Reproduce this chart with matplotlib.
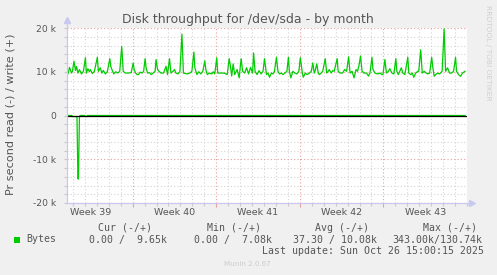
import matplotlib
matplotlib.use("Agg")
import matplotlib.pyplot as plt
from matplotlib.patches import Rectangle
from matplotlib.transforms import blended_transform_factory

# write (+) series, hours since the left edge of the graph, bytes/s
write_hours = [
    0, 2, 5, 9, 11, 14, 17, 19, 22, 25, 29, 33, 37, 39, 42, 45, 47, 51, 55, 61,
    63, 67, 70, 73, 77, 81, 86, 88, 91, 94, 98, 102, 106, 110, 113, 117, 124, 129, 133, 135,
    138, 141, 144, 147, 151, 154, 157, 159, 162, 166, 169, 173, 177, 179, 182, 185, 189, 194, 199, 202,
    206, 209, 213, 216, 219, 223, 227, 231, 234, 242, 247, 251, 255, 257, 261, 265, 269, 273, 277, 279,
    282, 286, 291, 294, 297, 301, 303, 316, 322, 326, 329, 331, 334, 337, 342, 346, 350, 353, 357, 361,
    365, 369, 373, 375, 378, 382, 386, 390, 394, 397, 401, 404, 407, 411, 414, 417, 421, 424, 427, 431,
    434, 438, 442, 445, 447, 450, 454, 458, 462, 466, 469, 473, 475, 479, 483, 487, 491, 494, 497, 499,
    502, 505, 507, 511, 514, 519, 522, 525, 527, 531, 534, 537, 543, 545, 549, 554, 558, 562, 566, 569,
    573, 577, 581, 584, 587, 590, 593, 597, 602, 606, 609, 613, 615, 619, 624, 629, 633, 635, 639, 642,
    646, 649, 653, 657, 661, 663, 666, 669, 672, 675, 679, 685, 687, 691, 694, 697, 701, 705, 707, 711,
    714, 718, 722, 725, 729, 733, 735, 738, 741, 745, 749, 754, 758, 761, 765, 769, 773, 777, 781, 783,
    787, 791, 795, 800,
]
write_vals = [
    10300, 9500, 11000, 9700, 10100, 12400, 10300, 11200, 9700, 10500, 9500, 10100, 13200, 9700, 10700, 10000, 10500, 9600, 10100, 13300,
    10100, 10900, 9700, 10300, 9500, 10000, 13000, 11200, 10300, 9500, 10000, 9700, 10100, 15800, 10100, 9700, 9700, 9800, 12000, 10500,
    9700, 9350, 9350, 9900, 9700, 10100, 13000, 10900, 9700, 9800, 9350, 9700, 10100, 12800, 10500, 10100, 9700, 9700, 11250, 9350,
    13000, 9700, 10100, 10500, 9700, 9500, 10100, 18600, 9700, 9500, 9700, 10100, 14500, 10900, 9350, 10000, 9500, 10100, 12500, 10500,
    9350, 9700, 9500, 10000, 9500, 13200, 9700, 9700, 9350, 13000, 10900, 9000, 11800, 9350, 10500, 8600, 13000, 10100, 9700, 10900,
    9500, 11000, 9700, 14300, 10100, 9350, 10260, 9500, 10100, 13000, 9350, 9700, 8750, 9700, 9500, 10100, 13300, 10100, 9500, 9700,
    9350, 9700, 10100, 13300, 10100, 8600, 10100, 9700, 9500, 10100, 13200, 9700, 8750, 9700, 9350, 9700, 10100, 12000, 9700, 10260,
    11800, 9700, 9350, 9700, 10100, 13000, 9700, 10100, 10500, 9700, 10260, 10100, 13000, 10100, 9700, 9700, 10500, 10100, 13400, 9700,
    10100, 8600, 10500, 10100, 11500, 13600, 10100, 9700, 9700, 9000, 9700, 13300, 10500, 9700, 9500, 9700, 9350, 9350, 12800, 9700,
    10100, 10700, 9700, 9500, 13000, 10100, 9350, 10100, 10900, 9700, 9350, 13300, 9700, 9350, 9700, 8750, 9700, 10100, 10100, 15000,
    9700, 10100, 9700, 9500, 9700, 13300, 11250, 8970, 9350, 9700, 9500, 10100, 19800, 10100, 10900, 9700, 9700, 10100, 13300, 10100,
    9350, 8970, 9700, 10100,
]

# read (-) series, drawn below zero
read_hours = [0, 10, 11, 20, 22, 23, 25, 26, 36, 37, 40, 41, 800]
read_vals = [0, 0, -250, -250, -14500, -14500, -250, 0, 0, -250, -250, 0, 0]

week_labels = ["Week 39", "Week 40", "Week 41", "Week 42", "Week 43"]
week_centers = [48, 216, 384, 552, 720]
week_starts = [132, 300, 468, 636]

y_ticks = [-20000, -10000, 0, 10000, 20000]
y_labels = ["-20 k", "-10 k", "0", "10 k", "20 k"]

legend_heads = ["Cur (-/+)", "Min (-/+)", "Avg (-/+)", "Max (-/+)"]
legend_vals = ["0.00 /  9.65k", "0.00 /  7.08k", "37.30 / 10.08k", "343.00k/130.74k"]

W, H = 497, 275
BG = "#F0F0F0"
TXT = "#555555"
GREEN = "#00CC00"
AXC = "#C8C8F0"


def fx(px):
    return px / W


def fy(py):
    return 1 - py / H


def main():
    fig = plt.figure(figsize=(W / 100, H / 100), dpi=100, facecolor=BG)
    ax = fig.add_axes([fx(67), fy(203), 400 / W, 175 / H])
    ax.set_facecolor("white")

    ax.set_xlim(0, 800)
    ax.set_ylim(-20000, 20000)

    # grid: gray dotted minor, reddish dotted major
    ax.set_xticks(week_starts)
    ax.set_xticks([12 + 24 * i for i in range(34)], minor=True)
    ax.set_yticks(y_ticks)
    ax.set_yticks(list(range(-18000, 20000, 2000)), minor=True)
    ax.set_xticklabels([])
    ax.set_yticklabels(y_labels, fontsize=6.6, color=TXT)
    ax.grid(which="minor", color="#D4D4D4", linestyle=(0, (1, 2)), linewidth=0.8)
    ax.grid(which="major", color="#E6A0A0", linestyle=(0, (1, 2)), linewidth=0.8)
    ax.set_axisbelow(True)
    ax.tick_params(which="major", axis="x", length=3, color="#E6A0A0", width=0.8)
    ax.tick_params(which="minor", axis="x", length=2, color="#C8C8C8", width=0.8)
    ax.tick_params(which="both", axis="y", length=2, color="#C8C8C8", width=0.8, pad=6)

    for s in ["top", "right", "left", "bottom"]:
        ax.spines[s].set_visible(False)

    # data
    ax.plot(read_hours, read_vals, color=GREEN, linewidth=0.9, zorder=3)
    ax.plot(write_hours, write_vals, color=GREEN, linewidth=0.9, zorder=3)
    ax.axhline(0, color="black", linewidth=0.9, zorder=4)

    # axes with arrows
    ax.plot([0, 0], [0, 1.045], transform=ax.transAxes, color=AXC, lw=0.9, clip_on=False, zorder=5)
    ax.plot([0, 1.012], [0, 0], transform=ax.transAxes, color=AXC, lw=0.9, clip_on=False, zorder=5)
    ax.plot([0], [1.045], marker="^", markersize=4, color=AXC, transform=ax.transAxes, clip_on=False, zorder=5)
    ax.plot([1.012], [0], marker=">", markersize=4, color=AXC, transform=ax.transAxes, clip_on=False, zorder=5)

    # week labels centred between week boundaries
    trans = blended_transform_factory(ax.transData, fig.transFigure)
    for c, lab in zip(week_centers, week_labels):
        ax.text(c, fy(212.3), lab, transform=trans, ha="center", va="center",
                fontsize=6.8, color=TXT, clip_on=False)

    fig.text(fx(248), fy(19.5), "Disk throughput for /dev/sda - by month",
             ha="center", va="center", fontsize=9, color=TXT)
    fig.text(fx(11), fy(114), "Pr second read (-) / write (+)", rotation=90,
             ha="center", va="center", fontsize=8.1, color=TXT)
    fig.text(fx(488), fy(53), "RRDTOOL / TOBI OETIKER", rotation=270,
             ha="center", va="center", fontsize=5.4, color="#D0D0D0")
    fig.text(fx(247.5), fy(264), "Munin 2.0.67", ha="center", va="center",
             fontsize=5.1, color="#CCCCCC")

    # legend block (monospace)
    mono = dict(family="DejaVu Sans Mono", fontsize=7.1, color=TXT, va="center")
    for x, t in zip([98.3, 206.7, 315, 422.7], legend_heads):
        fig.text(fx(x), fy(228), t, ha="left", **mono)
    fig.patches.append(Rectangle((fx(14), fy(243)), 6 / W, 6 / H, transform=fig.transFigure,
                                 facecolor=GREEN, edgecolor="none"))
    fig.text(fx(26.3), fy(239.5), "Bytes", ha="left", **mono)
    for x, t in zip([89.3, 194.3, 293.3, 392.3], legend_vals):
        fig.text(fx(x), fy(239.5), t, ha="left", **mono)
    fig.text(fx(261.7), fy(251), "Last update: Sun Oct 26 15:00:15 2025", ha="left", **mono)

    fig.savefig("out.png", dpi=100, facecolor=BG)


if __name__ == "__main__":
    main()
